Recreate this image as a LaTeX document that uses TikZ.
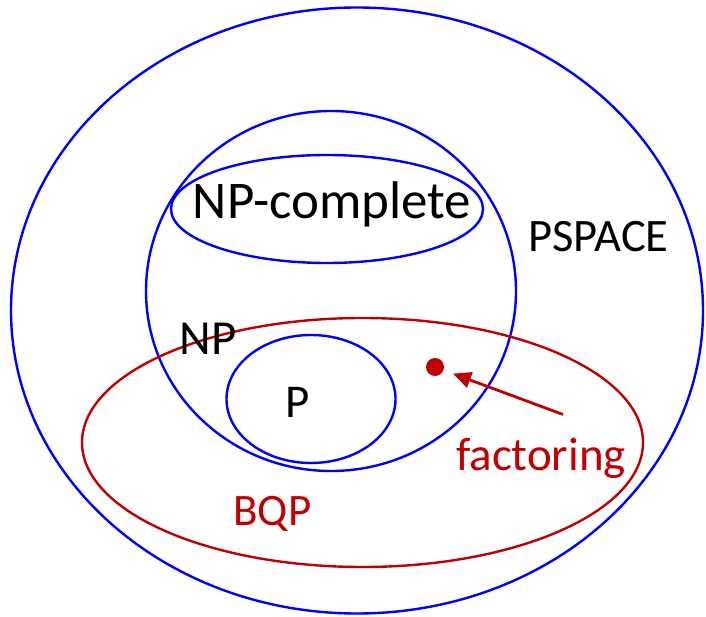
\documentclass[tikz,border=0pt]{standalone}
\usepackage{fontspec}
\setmainfont{Carlito}
\usetikzlibrary{arrows.meta}
\definecolor{cblue}{RGB}{0,0,255}
\definecolor{cred}{RGB}{192,0,0}
\tikzset{
  setline/.style={draw=cblue, line width=2.4pt},
  redline/.style={draw=cred, line width=2.4pt},
  lbl/.style={anchor=base, inner sep=0pt, text=black},
  redlbl/.style={anchor=base, inner sep=0pt, text=cred},
  arr/.style={draw=cred, line width=2.8pt, -{Triangle[length=18pt,width=16pt]}, shorten >=10pt}
}
\begin{document}
\begin{tikzpicture}[x=1pt,y=-1pt]
\useasboundingbox[fill=white] (0,0) rectangle (706,617);
% sets
\draw[setline] (357,310.5) ellipse [x radius=346, y radius=303];
\draw[setline] (331,291) ellipse [x radius=185, y radius=180];
\draw[setline] (327,209) ellipse [x radius=156, y radius=54];
\draw[setline] (311,399) ellipse [x radius=84.5, y radius=64];
\draw[redline] (362.5,442.5) ellipse [x radius=280.5, y radius=124.5];
% labels
\node[lbl, font=\fontsize{53}{63}\selectfont] (npc) at (332,218.5) {NP-complete};
\node[lbl, font=\fontsize{46.5}{56}\selectfont] (pspace) at (598.5,252) {PSPACE};
\node[lbl, font=\fontsize{49}{59}\selectfont] (np) at (208,354) {NP};
\node[lbl, font=\fontsize{47}{56}\selectfont] (p) at (298,417) {P};
\node[redlbl, font=\fontsize{47}{56}\selectfont] (fact) at (541,470) {factoring};
\node[redlbl, font=\fontsize{45}{54}\selectfont] (bqp) at (272.5,525) {BQP};
% factoring point and arrow
\node[circle, fill=cred, inner sep=0pt, minimum size=18pt] (dot) at (435,367) {};
\coordinate (tail) at (563,414.5);
\draw[arr] (tail) -- (dot);
\end{tikzpicture}
\end{document}
